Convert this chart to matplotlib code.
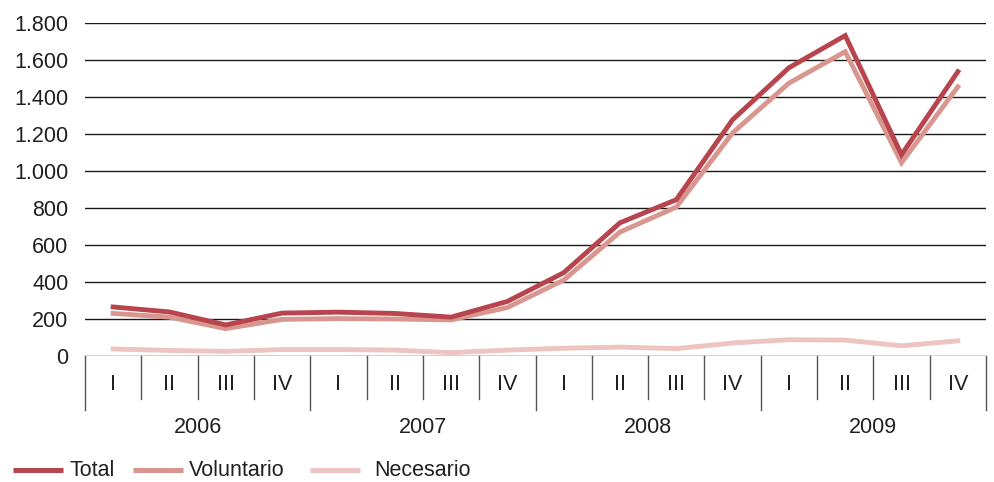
import numpy as np
import matplotlib.pyplot as plt
from matplotlib.lines import Line2D

plt.rcParams['font.family'] = ['Liberation Sans', 'DejaVu Sans']

quarters = ['I', 'II', 'III', 'IV'] * 4
years = ['2006', '2007', '2008', '2009']
total = [265, 238, 168, 232, 237, 230, 210, 295, 450, 720, 845, 1277, 1558, 1732, 1088, 1537]
voluntario = [230, 210, 148, 198, 202, 200, 195, 262, 410, 670, 805, 1206, 1475, 1645, 1045, 1455]
necesario = [38, 30, 25, 35, 35, 32, 18, 32, 42, 48, 40, 70, 88, 86, 55, 82]

c_total = '#b8444d'
c_vol = '#d9968f'
c_nec = '#edc4bf'
txt = '#231f20'

W, H = 994, 482
fig = plt.figure(figsize=(W / 100, H / 100), dpi=100)
ax = fig.add_axes([85 / W, 1 - 356 / H, 901 / W, 333 / H])

x = np.arange(len(total))
for v in range(0, 1801, 200):
    ax.axhline(v, color='#1a1a1a', lw=1.0, zorder=1)

ax.plot(x, necesario, color=c_nec, lw=3.5, zorder=3, solid_joinstyle='miter')
ax.plot(x, voluntario, color=c_vol, lw=3.5, zorder=4, solid_joinstyle='miter')
ax.plot(x, total, color=c_total, lw=3.5, zorder=5, solid_joinstyle='miter')

ax.set_xlim(-0.5, 15.5)
ax.set_ylim(0, 1800)
ax.set_yticks(range(0, 1801, 200))
ax.set_yticklabels([f'{v:,}'.replace(',', '.') for v in range(0, 1801, 200)])
ax.tick_params(axis='y', length=0, pad=12, labelsize=15.5, labelcolor=txt)
ax.set_xticks([])
for s in ax.spines.values():
    s.set_visible(False)

trans = ax.get_xaxis_transform()
for k in range(17):
    xb = k - 0.5
    bottom = -0.162 if k % 4 == 0 else -0.129
    ax.plot([xb, xb], [0, bottom], transform=trans, color='#555555', lw=1.0, clip_on=False)
for i, q in enumerate(quarters):
    ax.text(i, -0.087, q, transform=trans, ha='center', va='center', fontsize=15.5, color=txt)
for j, yr in enumerate(years):
    ax.text(j * 4 + 1.5, -0.216, yr, transform=trans, ha='center', va='center', fontsize=15.5, color=txt)

# legend drawn by hand (pixel positions)
ly = 1 - 470 / H
legend = [('Total', c_total, 13, 69), ('Voluntario', c_vol, 133, 189), ('Necesario', c_nec, 310, 374)]
for name, col, hx, tx in legend:
    fig.add_artist(Line2D([hx / W, (hx + 50) / W], [ly, ly], color=col, lw=3.6,
                          transform=fig.transFigure, solid_capstyle='butt'))
    fig.text(tx / W, ly, name, ha='left', va='center', fontsize=15.5, color=txt)

fig.savefig('out.png', dpi=100)
